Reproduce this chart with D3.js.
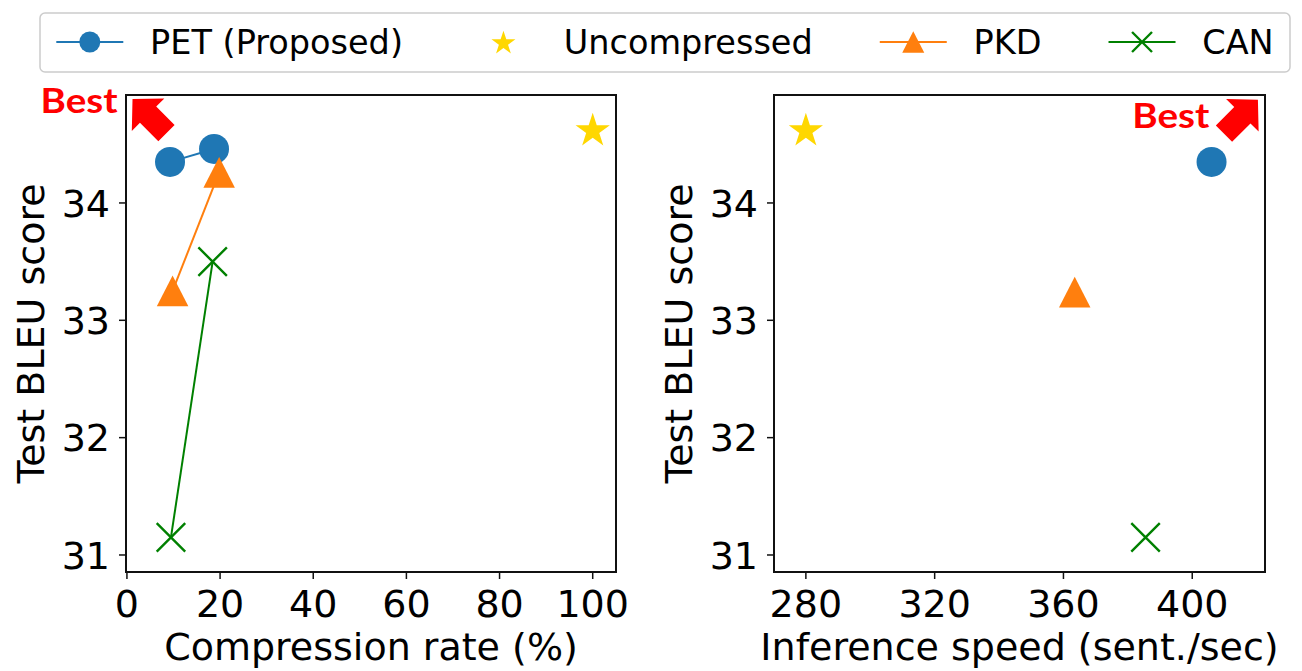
<!DOCTYPE html>
<html>
<head>
<meta charset="utf-8">
<script src="https://cdn.jsdelivr.net/npm/d3@7"></script>
<style>
  html, body { margin: 0; padding: 0; background: #fff; }
  svg { display: block; font-family: "DejaVu Sans", sans-serif; }
</style>
</head>
<body>
<div id="chart"></div>
<script>
// two scatter panels: BLEU vs compression rate, BLEU vs inference speed

// ----- data -----
const models = ["PET (Proposed)", "Uncompressed", "PKD", "CAN"];
const modelColors = ["#1f77b4", "#ffd700", "#ff7f0e", "#008000"];
const modelShapes = ["circle", "star", "triangle", "x"];
const modelHasLine = [true, false, true, true];

// left panel: compression rate (%) vs test BLEU
const ratePET = [9.25, 18.7];
const bleuPETrate = [34.35, 34.46];
const rateUnc = [100];
const bleuUncRate = [34.63];
const ratePKD = [9.8, 19.8];
const bleuPKDrate = [33.25, 34.26];
const rateCAN = [9.45, 18.4];
const bleuCANrate = [31.15, 33.50];

// right panel: inference speed (sent./sec) vs test BLEU
const speedPET = [406];
const bleuPETspeed = [34.35];
const speedUnc = [280];
const bleuUncSpeed = [34.63];
const speedPKD = [363.5];
const bleuPKDspeed = [33.24];
const speedCAN = [385.5];
const bleuCANspeed = [31.15];

// tick labels
const rateTicks = [0, 20, 40, 60, 80, 100];
const speedTicks = [280, 320, 360, 400];
const bleuTicks = [31, 32, 33, 34];

// "Best" annotations (arrow tip in data units)
const bestRate = { x: 1.2, y: 34.885, tx: -2.0, ty: 34.77, angle: -135 };
const bestSpeed = { x: 420.4, y: 34.88, tx: 405.3, ty: 34.64, angle: -45 };

// ----- layout -----
const W = 1302, H = 671;
const fontMain = 38;
const fontLegend = 33.5;

const svg = d3.select("#chart").append("svg")
  .attr("width", W)
  .attr("height", H);

const yScale = d3.scaleLinear().domain([30.855, 34.92]).range([572, 95]);

// marker path builders
function markerPath(shape, s) {
  if (shape === "circle") {
    return d3.symbol().type(d3.symbolCircle).size(Math.PI * s * s)();
  }
  if (shape === "triangle") {
    const w = s * 2.1, h = s * 2.05;
    return "M0," + (-h / 2) + "L" + (w / 2) + "," + (h / 2) + "L" + (-w / 2) + "," + (h / 2) + "Z";
  }
  if (shape === "star") {
    const R = s * 1.2, r = R * 0.382;
    const pts = [];
    for (let i = 0; i < 10; i++) {
      const a = -Math.PI / 2 + i * Math.PI / 5;
      const rr = i % 2 === 0 ? R : r;
      pts.push([rr * Math.cos(a), rr * Math.sin(a) + R * 0.1]);
    }
    return "M" + pts.map(p => p[0].toFixed(2) + "," + p[1].toFixed(2)).join("L") + "Z";
  }
  // x marker
  const k = s * 0.95;
  return "M" + (-k) + "," + (-k) + "L" + k + "," + k + "M" + (-k) + "," + k + "L" + k + "," + (-k);
}

function drawMarker(g, shape, color, x, y, s) {
  const p = g.append("path")
    .attr("transform", "translate(" + x + "," + y + ")")
    .attr("d", markerPath(shape, s));
  if (shape === "x") {
    p.attr("fill", "none").attr("stroke", color).attr("stroke-width", 2.4);
  } else {
    p.attr("fill", color).attr("stroke", "none");
  }
}

// block arrow, tip at (0,0) pointing along +x before rotation
function arrowPath() {
  const headLen = 22, headHalf = 23, shaftHalf = 11.5, tail = 48;
  return "M0,0L" + (-headLen) + "," + (-headHalf) + "L" + (-headLen) + "," + (-shaftHalf) +
    "L" + (-tail) + "," + (-shaftHalf) + "L" + (-tail) + "," + shaftHalf +
    "L" + (-headLen) + "," + shaftHalf + "L" + (-headLen) + "," + headHalf + "Z";
}

function drawPanel(opts) {
  const x = d3.scaleLinear().domain(opts.xDomain).range(opts.xRange);
  const g = svg.append("g");
  const x0 = opts.xRange[0], x1 = opts.xRange[1];
  const y0 = 572, y1 = 95;

  // series
  opts.series.forEach((s, i) => {
    const pts = s.xs.map((v, j) => [x(v), yScale(s.ys[j])]);
    if (modelHasLine[i] && pts.length > 1) {
      g.append("path")
        .attr("d", d3.line()(pts))
        .attr("fill", "none")
        .attr("stroke", modelColors[i])
        .attr("stroke-width", 2);
    }
  });
  opts.series.forEach((s, i) => {
    s.xs.forEach((v, j) => {
      drawMarker(g, modelShapes[i], modelColors[i], x(v), yScale(s.ys[j]), 15);
    });
  });

  // frame
  g.append("rect")
    .attr("x", x0).attr("y", y1)
    .attr("width", x1 - x0).attr("height", y0 - y1)
    .attr("fill", "none")
    .attr("stroke", "#111")
    .attr("stroke-width", 2);

  // x ticks
  opts.xTicks.forEach(t => {
    g.append("line")
      .attr("x1", x(t)).attr("x2", x(t))
      .attr("y1", y0).attr("y2", y0 + 7)
      .attr("stroke", "#111").attr("stroke-width", 1.5);
    g.append("text")
      .attr("x", x(t)).attr("y", 617)
      .attr("text-anchor", "middle")
      .style("font-size", fontMain + "px")
      .text(t);
  });

  // y ticks
  bleuTicks.forEach(t => {
    g.append("line")
      .attr("x1", x0 - 7).attr("x2", x0)
      .attr("y1", yScale(t)).attr("y2", yScale(t))
      .attr("stroke", "#111").attr("stroke-width", 1.5);
    g.append("text")
      .attr("x", x0 - 16).attr("y", yScale(t))
      .attr("dy", "0.36em")
      .attr("text-anchor", "end")
      .style("font-size", fontMain + "px")
      .text(t);
  });

  // axis labels
  g.append("text")
    .attr("x", (x0 + x1) / 2).attr("y", 660)
    .attr("text-anchor", "middle")
    .style("font-size", fontMain + "px")
    .text(opts.xLabel);

  g.append("text")
    .attr("transform", "translate(" + (x0 - 82) + "," + ((y0 + y1) / 2) + ") rotate(-90)")
    .attr("text-anchor", "middle")
    .style("font-size", fontMain + "px")
    .text("Test BLEU score");

  // "Best" annotation
  const b = opts.best;
  g.append("path")
    .attr("d", arrowPath())
    .attr("transform", "translate(" + x(b.x) + "," + yScale(b.y) + ") rotate(" + b.angle + ")")
    .attr("fill", "#ff0000");
  g.append("text")
    .attr("x", x(b.tx)).attr("y", yScale(b.ty))
    .attr("text-anchor", "end")
    .attr("textLength", 77)
    .attr("lengthAdjust", "spacingAndGlyphs")
    .style("font-family", "Lato, 'Open Sans', sans-serif")
    .style("font-weight", "bold")
    .style("font-size", "35px")
    .style("fill", "#ff0000")
    .text("Best");
}

drawPanel({
  xDomain: [-0.2, 105.0],
  xRange: [126, 616],
  xTicks: rateTicks,
  xLabel: "Compression rate (%)",
  series: [
    { xs: ratePET, ys: bleuPETrate },
    { xs: rateUnc, ys: bleuUncRate },
    { xs: ratePKD, ys: bleuPKDrate },
    { xs: rateCAN, ys: bleuCANrate }
  ],
  best: bestRate
});

drawPanel({
  xDomain: [270.1, 422.6],
  xRange: [774, 1265],
  xTicks: speedTicks,
  xLabel: "Inference speed (sent./sec)",
  series: [
    { xs: speedPET, ys: bleuPETspeed },
    { xs: speedUnc, ys: bleuUncSpeed },
    { xs: speedPKD, ys: bleuPKDspeed },
    { xs: speedCAN, ys: bleuCANspeed }
  ],
  best: bestSpeed
});

// ----- legend -----
const legend = svg.append("g");
const legendBox = legend.append("rect")
  .attr("rx", 5).attr("ry", 5)
  .attr("fill", "#fff")
  .attr("stroke", "#cccccc")
  .attr("stroke-width", 1.5);

const handleLen = fontLegend * 2, handlePad = fontLegend * 0.8, colSpace = fontLegend * 2;
const legendY = 42;
let cursor = 0;
const items = legend.append("g");
models.forEach((m, i) => {
  const cx = cursor + handleLen / 2;
  if (modelHasLine[i]) {
    items.append("line")
      .attr("x1", cursor).attr("x2", cursor + handleLen)
      .attr("y1", legendY).attr("y2", legendY)
      .attr("stroke", modelColors[i]).attr("stroke-width", 2);
  }
  drawMarker(items, modelShapes[i], modelColors[i], cx, legendY, 10.5);
  const t = items.append("text")
    .attr("x", cursor + handleLen + handlePad)
    .attr("y", legendY)
    .attr("dy", "0.36em")
    .style("font-size", fontLegend + "px")
    .text(m);
  cursor += handleLen + handlePad + t.node().getComputedTextLength() + colSpace;
});
const itemsWidth = cursor - colSpace;
const boxX = 40, boxW = 1250;
const offset = boxX + (boxW - itemsWidth) / 2;
items.attr("transform", "translate(" + offset + ",0)");
legendBox.attr("x", boxX).attr("y", 13).attr("width", boxW).attr("height", 59);
</script>
</body>
</html>
